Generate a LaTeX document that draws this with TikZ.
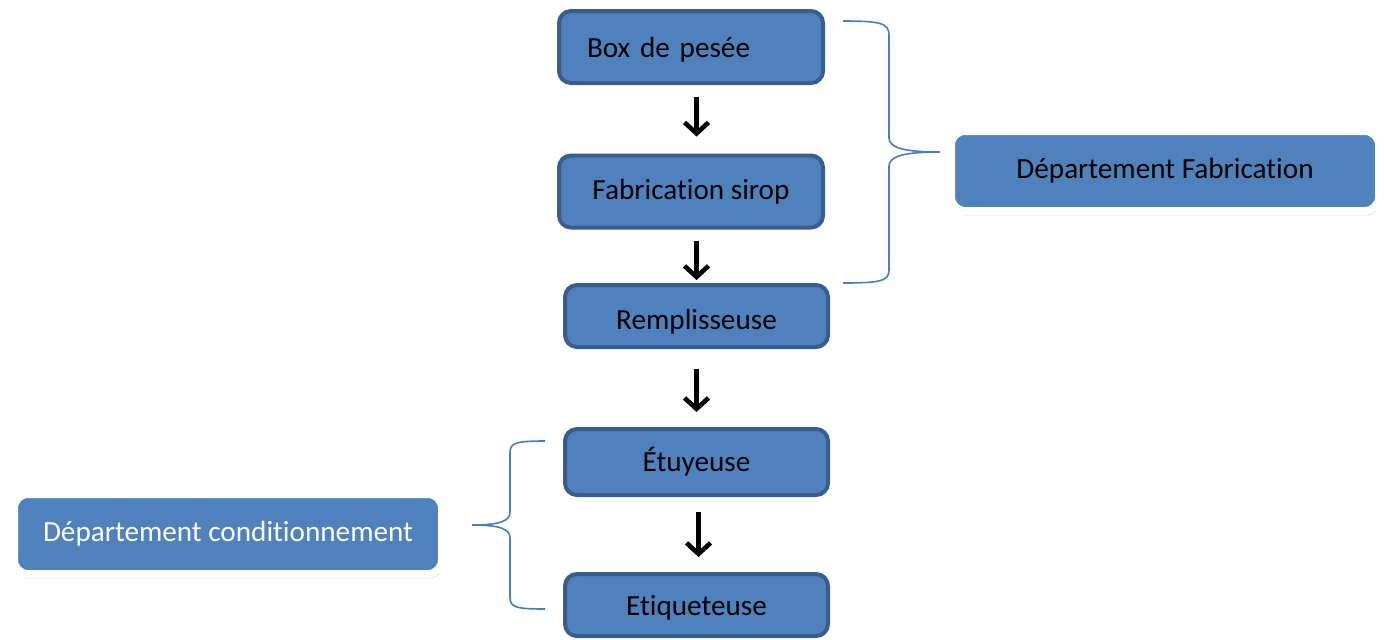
\documentclass[tikz,border=0pt]{standalone}
\usepackage{fontspec}
\setmainfont{Carlito}[Ligatures=NoCommon]
\usetikzlibrary{arrows.meta,shadows}
\definecolor{boxfill}{HTML}{4F81BD}
\definecolor{boxline}{HTML}{3A5E8C}
\definecolor{braceblue}{HTML}{4A7EBB}
\tikzset{
  centered/.style = { align=center, anchor=center },
   process/.style = { centered, draw=boxline, fill=boxfill, line width=2pt,
                      rounded corners=6pt, minimum width=132pt, minimum height=33pt,
                      font=\fontsize{14.6}{17}\selectfont },
      dept/.style = { centered, draw=white, fill=boxfill, line width=4pt,
                      rounded corners=7pt, minimum width=214pt, minimum height=40pt,
                      font=\fontsize{14.6}{17}\selectfont,
                      drop shadow={opacity=0.3, shadow xshift=0.8pt, shadow yshift=-2.2pt} },
     arrow/.style = { line width=2.3pt, -{Straight Barb[length=5.5pt,width=12pt]} },
     brace/.style = { color=braceblue, line width=0.8pt }
}
\begin{document}
\begin{tikzpicture}[x=0.5pt, y=-0.5pt]
  \useasboundingbox (0,0) rectangle (1384,639);

  \node[process, minimum height=36pt, text width=104pt, inner xsep=14pt, align=left, text depth=0pt]
    (pesee) at (691,47) {Box de pesée};
  \node[process, minimum height=36pt] (sirop) at (691,191.5) {Fabrication sirop};
  \node[process, minimum width=131.5pt, minimum height=31pt, text height=13pt, text depth=0pt]
    (rempl) at (696.5,316) {Remplisseuse};
  \node[process, minimum width=131.5pt] (etuy) at (696.5,462) {Étuyeuse};
  \node[process, minimum width=131.5pt, minimum height=31pt, text depth=0pt]
    (etiq) at (696.5,605) {Etiqueteuse};

  \node[dept] (fab) at (1165,171) {Département Fabrication};
  \node[dept, text=white] (cond) at (228,534) {Département conditionnement};

  \draw [arrow, shorten <=6pt, shorten >=8.5pt] (pesee.south -| rempl) -- (sirop.north -| rempl);
  \draw [arrow, shorten <=5.5pt, shorten >=1.5pt] (sirop.south -| rempl) -- (rempl.north);
  \draw [arrow, shorten <=10pt, shorten >=7.5pt] (rempl) -- (etuy);
  \draw [arrow, shorten <=7.5pt, shorten >=7.5pt] ([xshift=1pt]etuy.south) -- ([xshift=1pt]etiq.north);

  \draw [brace] (843,21) .. controls (880,21) and (889,23) .. (889,35) -- (889,138)
    .. controls (889,148) and (905,152) .. (940,152)
    .. controls (905,152) and (889,156) .. (889,166) -- (889,270)
    .. controls (889,281) and (880,283) .. (843,283);
  \draw [brace] (545,441) .. controls (515,441) and (510,443) .. (510,453) -- (510,512)
    .. controls (510,521) and (500,525) .. (472,525)
    .. controls (500,525) and (510,529) .. (510,538) -- (510,597)
    .. controls (510,607) and (515,609) .. (545,609);
\end{tikzpicture}
\end{document}
